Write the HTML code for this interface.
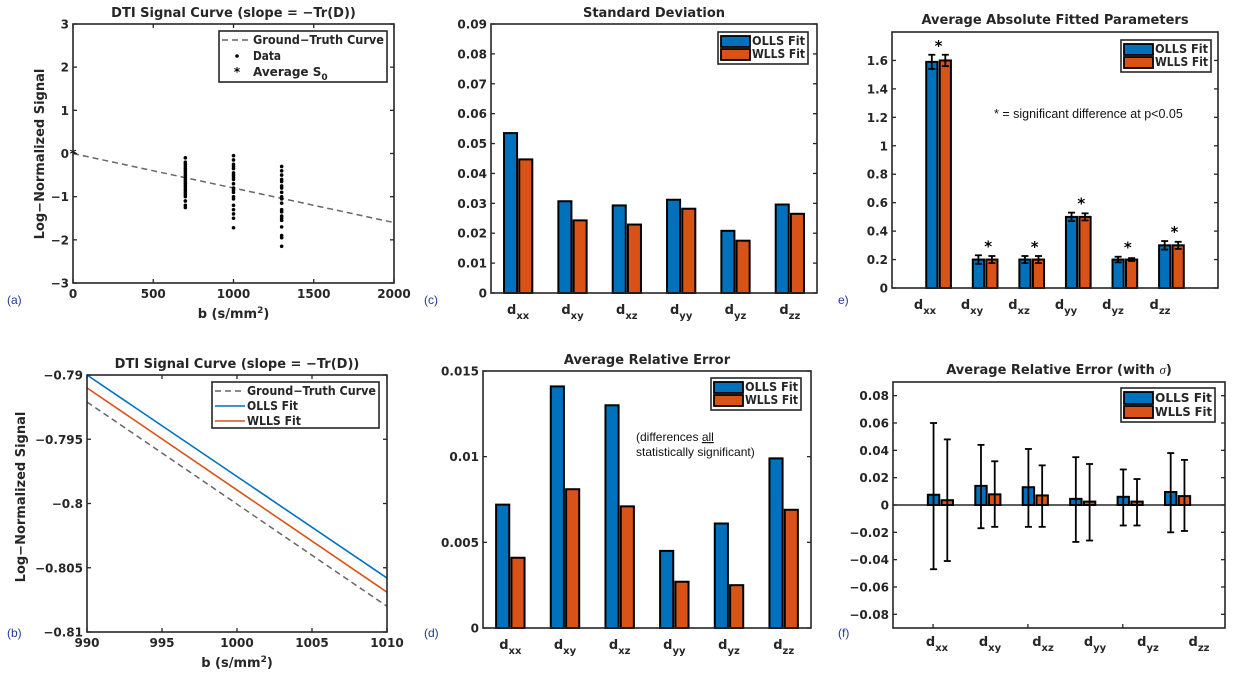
<!DOCTYPE html>
<html><head><meta charset="utf-8"><style>
html,body{margin:0;padding:0;background:#fff;}
svg{display:block;font-family:"DejaVu Sans","Liberation Sans",sans-serif;}
</style></head><body>
<svg id="fig" width="1234" height="681" viewBox="0 0 1234 681" xmlns="http://www.w3.org/2000/svg"></svg>
<script>
// ---- data ----
const cats = ['xx','xy','xz','yy','yz','zz'];
// (a)
const aB = [700, 1000, 1300];
const a700 = [-0.1,-0.2,-0.25,-0.3,-0.35,-0.4,-0.45,-0.5,-0.55,-0.6,-0.65,-0.7,-0.75,-0.8,-0.85,-0.9,-0.95,-1.0,-1.1,-1.2,-1.25];
const a1000 = [-0.05,-0.15,-0.25,-0.3,-0.35,-0.45,-0.5,-0.55,-0.6,-0.7,-0.8,-0.85,-0.9,-1.0,-1.05,-1.2,-1.3,-1.4,-1.5,-1.72];
const a1300 = [-0.3,-0.4,-0.5,-0.6,-0.65,-0.75,-0.8,-0.9,-1.0,-1.05,-1.15,-1.3,-1.35,-1.45,-1.5,-1.55,-1.7,-1.9,-1.95,-2.15];
const aSlope = -0.0008;
const aXTicks = [0,500,1000,1500,2000];
const aYTicks = [-3,-2,-1,0,1,2,3];
// (b)
const bX = [990, 1010];
const bGT = [-0.7921, -0.8080];
const bOLLS = [-0.7900, -0.8058];
const bWLLS = [-0.7910, -0.8069];
const bXTicks = [990,995,1000,1005,1010];
const bYTicks = [-0.81,-0.805,-0.8,-0.795,-0.79];
const bYLabels = ['-0.81','-0.805','-0.8','-0.795','-0.79'];
// (c)
const cOLLS = [0.0535,0.0307,0.0293,0.0312,0.0208,0.0296];
const cWLLS = [0.0447,0.0243,0.0229,0.0282,0.0175,0.0265];
const cYTicks = [0,0.01,0.02,0.03,0.04,0.05,0.06,0.07,0.08,0.09];
// (d)
const dOLLS = [0.0072,0.0141,0.0130,0.0045,0.0061,0.0099];
const dWLLS = [0.0041,0.0081,0.0071,0.0027,0.0025,0.0069];
const dYTicks = [0,0.005,0.01,0.015];
// (e)
const eOLLS = [1.59,0.20,0.20,0.50,0.20,0.30];
const eWLLS = [1.60,0.20,0.20,0.50,0.20,0.30];
const eErrO = [0.05,0.03,0.025,0.03,0.02,0.03];
const eErrW = [0.04,0.025,0.025,0.025,0.01,0.025];
const eYTicks = [0,0.2,0.4,0.6,0.8,1,1.2,1.4,1.6];
// (f)
const fOLLS = [0.0075,0.014,0.013,0.0045,0.006,0.0095];
const fWLLS = [0.0035,0.0078,0.007,0.0025,0.0025,0.0065];
const fHiO = [0.060,0.044,0.041,0.035,0.026,0.038];
const fLoO = [-0.047,-0.017,-0.016,-0.027,-0.015,-0.020];
const fHiW = [0.048,0.032,0.029,0.030,0.019,0.033];
const fLoW = [-0.041,-0.016,-0.016,-0.026,-0.015,-0.019];
const fYTicks = [-0.08,-0.06,-0.04,-0.02,0,0.02,0.04,0.06,0.08];
const fYLabels = ['-0.08','-0.06','-0.04','-0.02','0','0.02','0.04','0.06','0.08'];

const BLUE='#0072BD', RED='#D95319', AX='#262626';
const svg = document.getElementById('fig');
const NS='http://www.w3.org/2000/svg';
function mk(tag, attrs, parent){
  const e=document.createElementNS(NS,tag);
  for(const k in attrs) e.setAttribute(k,attrs[k]);
  (parent||svg).appendChild(e); return e;
}
function scale(d0,d1,r0,r1){return v=>r0+(v-d0)*(r1-r0)/(d1-d0);}
function txt(x,y,s,opt,parent){
  const t=mk('text',Object.assign({x:x,y:y,'font-size':12,'font-weight':'bold',fill:AX},opt||{}),parent);
  t.textContent=s; return t;
}
function axesBox(g,L,R,T,B){
  const r=mk('rect',{x:L,y:T,width:R-L,height:B-T,fill:'none',stroke:AX,'stroke-width':1.6},g);
  
  
}
function yTicks(g,L,R,ys,ticks,labels){
  ticks.forEach((v,i)=>{
    const y=ys(v);
    const t1=mk('line',{x1:L,x2:L+4,y1:y,y2:y,stroke:AX,'stroke-width':1.3},g);
    
    
    const t2=mk('line',{x1:R-4,x2:R,y1:y,y2:y,stroke:AX,'stroke-width':1.3},g);
    
    
    const l=txt(L-4,y+4.5,labels?labels[i]:String(v),{'text-anchor':'end'},g);
    
    
  });
}
function xTicks(g,T,B,xs,ticks,labels){
  ticks.forEach((v,i)=>{
    const x=xs(v);
    const t1=mk('line',{x1:x,x2:x,y1:B,y2:B-4,stroke:AX,'stroke-width':1.3},g);
    
    
    const t2=mk('line',{x1:x,x2:x,y1:T,y2:T+4,stroke:AX,'stroke-width':1.3},g);
    
    
    const l=txt(x,B+15,labels?labels[i]:String(v),{'text-anchor':'middle'},g);
    
    
  });
}
function catLabel(g,x,y,sub){
  const t=mk('text',{x:x,y:y,'font-size':13,'font-weight':'bold',fill:AX,'text-anchor':'middle'},g);
  
  
  const s1=mk('tspan',{},t); s1.textContent='d';
  const s2=mk('tspan',{dy:5,'font-size':10},t); s2.textContent=sub;
}
function title(g,x,y,s){
  const t=txt(x,y,s,{'text-anchor':'middle','font-size':13},g);
  
  
  return t;
}
function panelLabel(x,y,s){
  const t=mk('text',{x:x,y:y,'font-size':12,fill:'#1f3a93','font-family':'Liberation Sans, sans-serif'});
  t.textContent=s;
  
  
}
function barLegend(g,x,y,w,h){
  const lg=mk('g',{},g);
  
  
  mk('rect',{x:x,y:y,width:w,height:h,fill:'#fff',stroke:AX,'stroke-width':1.6},lg);
  [[BLUE,'OLLS Fit'],[RED,'WLLS Fit']].forEach((p,i)=>{
    const yy=y+3+i*(h-6)/2;
    const e=mk('g',{},lg);
    
    
    mk('rect',{x:x+3,y:yy+1,width:29,height:(h-6)/2-2,fill:p[0],stroke:'#000','stroke-width':1.8},e);
    txt(x+34,yy+(h-6)/2-3,p[1],{'font-size':12,textLength:w-37,lengthAdjust:'spacingAndGlyphs'},e);
  });
}
function bars(g,xs,ys,vals,off,w,color,name){
  vals.forEach((v,i)=>{
    const x0=xs(i+1+off-w/2), x1=xs(i+1+off+w/2);
    const y0=ys(0), y1=ys(v);
    const r=mk('rect',{x:x0,y:Math.min(y0,y1),width:x1-x0,height:Math.abs(y0-y1),fill:color,stroke:'#000','stroke-width':2},g);
    
    
  });
}
function errBars(g,xs,ys,off,lo,hi,name){
  lo.forEach((l,i)=>{
    const x=xs(i+1+off);
    const e=mk('g',{stroke:'#000','stroke-width':1.8},g);
    
    
    mk('line',{x1:x,x2:x,y1:ys(l),y2:ys(hi[i])},e);
    mk('line',{x1:x-3.5,x2:x+3.5,y1:ys(l),y2:ys(l)},e);
    mk('line',{x1:x-3.5,x2:x+3.5,y1:ys(hi[i]),y2:ys(hi[i])},e);
  });
}

// ===== Panel (a) =====
(function(){
  const g=mk('g',{});  
  const L=73,R=394,T=24,B=283;
  const xs=scale(0,2000,L,R), ys=scale(-3,3,B,T);
  const gt=mk('line',{x1:xs(0),y1:ys(0),x2:xs(2000),y2:ys(2000*aSlope),stroke:'#666','stroke-width':1.5,'stroke-dasharray':'6,4'},g);
  
  
  [a700,a1000,a1300].forEach((arr,k)=>{
    arr.forEach(v=>{
      const c=mk('circle',{cx:xs(aB[k]),cy:ys(v),r:1.8,fill:'#000'},g);
      
      
    });
  });
  const s0=txt(xs(0),ys(0)+5,'*',{'text-anchor':'middle','font-size':13,fill:'#000'},g);
  
  
  axesBox(g,L,R,T,B);
  yTicks(g,L,R,ys,aYTicks,aYTicks.map(v=>v<0?'−'+(-v):String(v)));
  xTicks(g,T,B,xs,aXTicks);
  title(g,(L+R)/2,17,'DTI Signal Curve (slope = −Tr(D))');
  const xt=txt((L+R)/2,318,'b (s/mm',{'text-anchor':'middle','font-size':13},g);
   
  const sp=mk('tspan',{dy:-5,'font-size':9},xt); sp.textContent='2';
  const sp2=mk('tspan',{dy:5},xt); sp2.textContent=')';
  const yt=txt(0,0,'Log−Normalized Signal',{'text-anchor':'middle','font-size':13,transform:'translate(44,154) rotate(-90)'},g);
   
  const lg=mk('g',{},g);  
  mk('rect',{x:219,y:31,width:168,height:51,fill:'#fff',stroke:AX,'stroke-width':1.6},lg);
  mk('line',{x1:222,x2:252,y1:40,y2:40,stroke:'#666','stroke-width':1.5,'stroke-dasharray':'6,4'},lg);
  txt(253,44,'Ground−Truth Curve',{'font-size':12,textLength:131,lengthAdjust:'spacingAndGlyphs'},lg);
  mk('circle',{cx:237,cy:56,r:1.8,fill:'#000'},lg);
  txt(253,60,'Data',{'font-size':12,textLength:28,lengthAdjust:'spacingAndGlyphs'},lg);
  txt(237,76,'*',{'font-size':12,'text-anchor':'middle',fill:'#000'},lg);
  const av=txt(253,76,'Average S',{'font-size':12},lg);
  const sb=mk('tspan',{dy:4,'font-size':9},av); sb.textContent='0';
})();
panelLabel(7,304,'(a)');

// ===== Panel (b) =====
(function(){
  const g=mk('g',{});  
  const L=87,R=387,T=375,B=632;
  const xs=scale(990,1010,L,R), ys=scale(-0.81,-0.79,B,T);
  const gt=mk('line',{x1:xs(bX[0]),y1:ys(bGT[0]),x2:xs(bX[1]),y2:ys(bGT[1]),stroke:'#666','stroke-width':1.5,'stroke-dasharray':'6,4'},g);
   
  const lo=mk('line',{x1:xs(bX[0]),y1:ys(bOLLS[0]),x2:xs(bX[1]),y2:ys(bOLLS[1]),stroke:BLUE,'stroke-width':1.6},g);
   
  const lw=mk('line',{x1:xs(bX[0]),y1:ys(bWLLS[0]),x2:xs(bX[1]),y2:ys(bWLLS[1]),stroke:RED,'stroke-width':1.6},g);
   
  axesBox(g,L,R,T,B);
  yTicks(g,L,R,ys,bYTicks,bYLabels.map(s=>s.replace('-','−')));
  xTicks(g,T,B,xs,bXTicks);
  title(g,(L+R)/2,368,'DTI Signal Curve (slope = −Tr(D))');
  const xt=txt((L+R)/2,667,'b (s/mm',{'text-anchor':'middle','font-size':13},g);
   
  const sp=mk('tspan',{dy:-5,'font-size':9},xt); sp.textContent='2';
  const sp2=mk('tspan',{dy:5},xt); sp2.textContent=')';
  const yt=txt(0,0,'Log−Normalized Signal',{'text-anchor':'middle','font-size':13,transform:'translate(25,497) rotate(-90)'},g);
   
  const lg=mk('g',{},g);  
  mk('rect',{x:212,y:382,width:167,height:46,fill:'#fff',stroke:AX,'stroke-width':1.6},lg);
  mk('line',{x1:215,x2:245,y1:391,y2:391,stroke:'#666','stroke-width':1.5,'stroke-dasharray':'6,4'},lg);
  txt(247,395,'Ground−Truth Curve',{'font-size':12,textLength:129,lengthAdjust:'spacingAndGlyphs'},lg);
  mk('line',{x1:215,x2:245,y1:406,y2:406,stroke:BLUE,'stroke-width':1.6},lg);
  txt(247,410,'OLLS Fit',{'font-size':12,textLength:51,lengthAdjust:'spacingAndGlyphs'},lg);
  mk('line',{x1:215,x2:245,y1:421,y2:421,stroke:RED,'stroke-width':1.6},lg);
  txt(247,425,'WLLS Fit',{'font-size':12,textLength:54,lengthAdjust:'spacingAndGlyphs'},lg);
})();
panelLabel(7,637,'(b)');

// ===== Panel (c) =====
(function(){
  const g=mk('g',{});  
  const L=491,R=817,T=24,B=293;
  const xs=scale(0.5,6.5,L,R), ys=scale(0,0.09,B,T);
  bars(g,xs,ys,cOLLS,-0.14,0.24,BLUE,'olls-bar');
  bars(g,xs,ys,cWLLS,0.14,0.24,RED,'wlls-bar');
  axesBox(g,L,R,T,B);
  yTicks(g,L,R,ys,cYTicks);
  cats.forEach((c,i)=>catLabel(g,xs(i+1),B+21,c));
  title(g,(L+R)/2,17,'Standard Deviation');
  barLegend(g,718,32,90,32);
})();
panelLabel(424,304,'(c)');

// ===== Panel (d) =====
(function(){
  const g=mk('g',{});  
  const L=483,R=811,T=371,B=628;
  const xs=scale(0.5,6.5,L,R), ys=scale(0,0.015,B,T);
  bars(g,xs,ys,dOLLS,-0.14,0.24,BLUE,'olls-bar');
  bars(g,xs,ys,dWLLS,0.14,0.24,RED,'wlls-bar');
  axesBox(g,L,R,T,B);
  yTicks(g,L,R,ys,dYTicks);
  cats.forEach((c,i)=>catLabel(g,xs(i+1),B+21,c));
  title(g,(L+R)/2,364,'Average Relative Error');
  barLegend(g,711,378,90,32);
  const an=mk('text',{x:636,y:441,'font-size':12,fill:'#111','font-family':'Liberation Sans, sans-serif'},g);
   
  const a1=mk('tspan',{},an); a1.textContent='(differences ';
  const a2=mk('tspan',{'text-decoration':'underline'},an); a2.textContent='all';
  const an2=mk('text',{x:636,y:456,'font-size':12,fill:'#111','font-family':'Liberation Sans, sans-serif'},g);
  an2.textContent='statistically significant)';
   
})();
panelLabel(424,637,'(d)');

// ===== Panel (e) =====
(function(){
  const g=mk('g',{});  
  const L=892,R=1218,T=32,B=288;
  const xs=scale(0,7,L,R), ys=scale(0,1.8,B,T);
  bars(g,xs,ys,eOLLS,-0.145,0.24,BLUE,'olls-bar');
  bars(g,xs,ys,eWLLS,0.145,0.24,RED,'wlls-bar');
  errBars(g,xs,ys,-0.145,eOLLS.map((v,i)=>v-eErrO[i]),eOLLS.map((v,i)=>v+eErrO[i]),'olls-error');
  errBars(g,xs,ys,0.145,eWLLS.map((v,i)=>v-eErrW[i]),eWLLS.map((v,i)=>v+eErrW[i]),'wlls-error');
  eOLLS.forEach((v,i)=>{
    const top=Math.max(v+eErrO[i],eWLLS[i]+eErrW[i]);
    const s=txt(xs(i+1)+(i==0?0:3),ys(top)-4,'*',{'text-anchor':'middle','font-size':15,fill:'#000'},g);
     
  });
  axesBox(g,L,R,T,B);
  yTicks(g,L,R,ys,eYTicks);
  const lx=[925,972,1019,1066,1113,1160];
  cats.forEach((c,i)=>catLabel(g,lx[i],B+21,c));
  title(g,(L+R)/2,24,'Average Absolute Fitted Parameters');
  barLegend(g,1121,40,90,32);
  const an=mk('text',{x:994,y:118,'font-size':12.5,fill:'#111','font-family':'Liberation Sans, sans-serif'},g);
  an.textContent='* = significant difference at p<0.05';
   
})();
panelLabel(838,304,'e)');

// ===== Panel (f) =====
(function(){
  const g=mk('g',{});  
  const L=893,R=1225,T=382,B=628;
  const xs=scale(0,7,L,R), ys=scale(-0.09,0.09,B,T);
  const z=mk('line',{x1:L,x2:R,y1:ys(0),y2:ys(0),stroke:AX,'stroke-width':1.6},g);
   
  bars(g,xs,ys,fOLLS,-0.145,0.24,BLUE,'olls-bar');
  bars(g,xs,ys,fWLLS,0.145,0.24,RED,'wlls-bar');
  errBars(g,xs,ys,-0.145,fLoO,fHiO,'olls-error');
  errBars(g,xs,ys,0.145,fLoW,fHiW,'wlls-error');
  axesBox(g,L,R,T,B);
  yTicks(g,L,R,ys,fYTicks,fYLabels.map(s=>s.replace('-','−')));
  [1,3,5].forEach(v=>{
    const t=mk('line',{x1:L+(v*2-0.9)*(R-L)/14+14,x2:L+(v*2-0.9)*(R-L)/14+14,y1:B,y2:B-4,stroke:AX,'stroke-width':1.3},g);
     
  });
  const lx=[937,990,1043,1095,1148,1199];
  cats.forEach((c,i)=>catLabel(g,lx[i],B+18,c));
  const t=title(g,(L+R)/2,374,'Average Relative Error (with ');
  const sg=mk('tspan',{'font-style':'italic','font-weight':'normal','font-family':'Liberation Serif, serif'},t); sg.textContent='σ';
  const cl=mk('tspan',{},t); cl.textContent=')';
  barLegend(g,1121,388,94,34);
})();
panelLabel(838,637,'(f)');
</script>
</body></html>
